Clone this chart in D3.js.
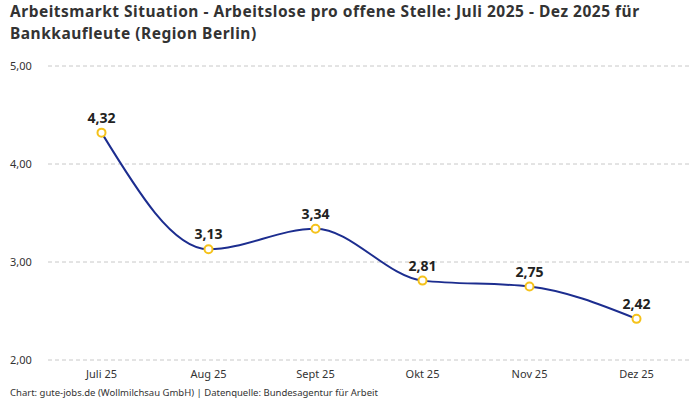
<!DOCTYPE html>
<html>
<head>
<meta charset="utf-8">
<script src="https://cdn.jsdelivr.net/npm/d3@7"></script>
<style>
  body { margin: 0; background: #fff; font-family: "Noto Sans", Roboto, sans-serif; }
</style>
</head>
<body>
<div id="chart"></div>
<script>
// data
const months = ["Juli 25", "Aug 25", "Sept 25", "Okt 25", "Nov 25", "Dez 25"];
const values = [4.32, 3.13, 3.34, 2.81, 2.75, 2.42];
const yTicks = [2, 3, 4, 5];

const width = 700, height = 400;
const fmt = v => v.toFixed(2).replace(".", ",");

const svg = d3.select("#chart").append("svg")
    .attr("width", width)
    .attr("height", height);

// title
svg.append("text")
    .attr("x", 10).attr("y", 17)
    .style("font-size", "15.5px").style("font-weight", "bold").style("fill", "#333")
    .style("letter-spacing", "0.5px")
    .text("Arbeitsmarkt Situation - Arbeitslose pro offene Stelle: Juli 2025 - Dez 2025 für");
svg.append("text")
    .attr("x", 10).attr("y", 39)
    .style("font-size", "15.5px").style("font-weight", "bold").style("fill", "#333")
    .style("letter-spacing", "0.5px")
    .text("Bankkaufleute (Region Berlin)");

const x = d3.scaleBand().domain(months).range([48, 690]);
const y = d3.scaleLinear().domain([2, 5]).range([360, 66]);

// grid lines + y labels
const grid = svg.append("g");
grid.selectAll("line").data(yTicks).enter().append("line")
    .attr("x1", 48).attr("x2", 690)
    .attr("y1", d => y(d)).attr("y2", d => y(d))
    .style("stroke", "#c8c8c8").style("stroke-dasharray", "4,3");
grid.selectAll("text").data(yTicks).enter().append("text")
    .attr("x", 10).attr("y", d => y(d)).attr("dy", "0.35em")
    .style("font-size", "11px").style("fill", "#333")
    .text(d => fmt(d));

// x labels
const xAxis = svg.append("g")
    .attr("transform", "translate(0,360)")
    .call(d3.axisBottom(x).tickSize(0).tickPadding(10));
xAxis.select(".domain").remove();
xAxis.selectAll("text")
    .style("font-size", "11px").style("fill", "#333")
    .style("font-family", "'Noto Sans', Roboto, sans-serif");

const cx = d => x(d) + x.bandwidth() / 2;

// line
const line = d3.line()
    .x((d, i) => cx(months[i]))
    .y(d => y(d))
    .curve(d3.curveMonotoneX);

svg.append("path")
    .datum(values)
    .attr("d", line)
    .style("fill", "none")
    .style("stroke", "#1c2d8f")
    .style("stroke-width", 2);

// points
svg.selectAll("circle.pt").data(values).enter().append("circle")
    .attr("class", "pt")
    .attr("cx", (d, i) => cx(months[i]))
    .attr("cy", d => y(d))
    .attr("r", 4)
    .style("fill", "#fff")
    .style("stroke", "#f5c21b")
    .style("stroke-width", 2);

// value labels
svg.selectAll("text.val").data(values).enter().append("text")
    .attr("class", "val")
    .attr("x", (d, i) => cx(months[i]))
    .attr("y", d => y(d) - 10)
    .attr("text-anchor", "middle")
    .style("font-size", "14px").style("font-weight", "bold").style("fill", "#222")
    .text(d => fmt(d));

// footer
svg.append("text")
    .attr("x", 10).attr("y", 396)
    .style("font-size", "9.5px").style("fill", "#333")
    .text("Chart: gute-jobs.de (Wollmilchsau GmbH) | Datenquelle: Bundesagentur für Arbeit");
</script>
</body>
</html>
